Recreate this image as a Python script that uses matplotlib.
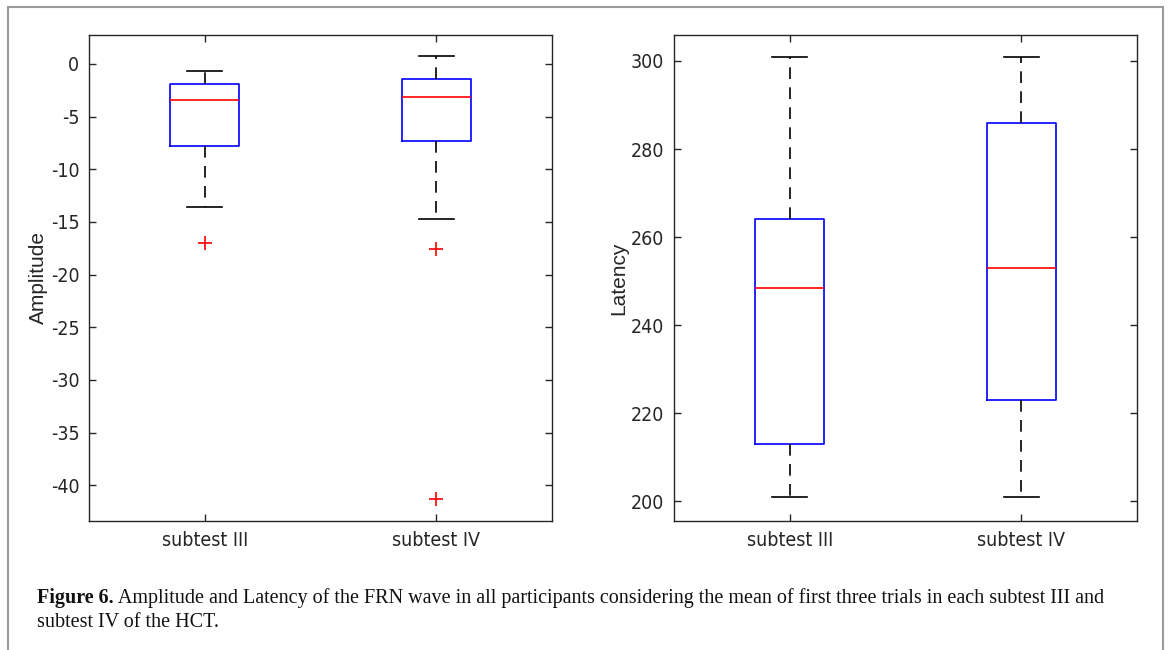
import matplotlib
matplotlib.use("Agg")
import matplotlib.pyplot as plt
from matplotlib.patches import Rectangle

plt.rcParams["axes.unicode_minus"] = False

# Box-plot summaries for the two subtests
groups = ["subtest III", "subtest IV"]

amp_med = [-3.4, -3.1]
amp_q1 = [-7.8, -7.3]
amp_q3 = [-1.9, -1.43]
amp_low = [-13.6, -14.7]
amp_high = [-0.65, 0.76]
amp_fliers = [[-17.0], [-17.6, -41.3]]

lat_med = [248.4, 253.0]
lat_q1 = [213.0, 223.0]
lat_q3 = [264.0, 286.0]
lat_low = [201.0, 201.0]
lat_high = [301.0, 301.0]
lat_fliers = [[], []]

caption_bold = "Figure 6."
caption_line1 = (" Amplitude and Latency of the FRN wave in all participants "
                 "considering the mean of first three trials in each subtest III and")
caption_line2 = "subtest IV of the HCT."

W, H = 1171, 650
ink = "#262626"


def make_stats(med, q1, q3, low, high, fliers):
    return [
        dict(med=med[i], q1=q1[i], q3=q3[i], whislo=low[i], whishi=high[i],
             fliers=fliers[i], label=groups[i])
        for i in range(len(groups))
    ]


def draw_box(ax, stats, ylim, yticks, ylabel, label_x):
    ax.bxp(
        stats, positions=[1, 2], widths=0.3,
        boxprops=dict(color="#0000ff", linewidth=1.2),
        medianprops=dict(color="#ff0000", linewidth=1.2),
        whiskerprops=dict(color="black", linewidth=1.2, linestyle=(0, (7, 5))),
        capprops=dict(color="black", linewidth=1.2),
        capwidths=0.15,
        flierprops=dict(marker="+", markeredgecolor="#ff0000", markersize=10,
                        markeredgewidth=1.2, linestyle="none"),
    )
    ax.set_xlim(0.5, 2.5)
    ax.set_ylim(*ylim)
    ax.set_yticks(yticks)
    ax.set_xticks([1, 2])
    ax.set_xticklabels(groups)
    ax.tick_params(direction="in", top=True, right=True, length=5,
                   width=1.0, color=ink, labelcolor=ink, pad=7)
    for lbl in ax.get_xticklabels() + ax.get_yticklabels():
        lbl.set_fontfamily(["DejaVu Sans"])
        lbl.set_fontstretch("condensed")
        lbl.set_fontsize(14)
    for sp in ax.spines.values():
        sp.set_color(ink)
        sp.set_linewidth(1.0)
    ax.set_ylabel(ylabel, fontsize=15, family=["Liberation Sans", "DejaVu Sans"],
                  color=ink)
    ax.yaxis.set_label_coords(label_x, 0.5)


fig = plt.figure(figsize=(W / 100, H / 100), dpi=100)

# outer panel frame, open past the bottom edge
frame = Rectangle((8 / W, -0.05), (1163 - 8) / W, (H - 7) / H + 0.05,
                  transform=fig.transFigure, fill=False, edgecolor="#9a9a9a",
                  linewidth=1.5, clip_on=False)
fig.add_artist(frame)

ax1 = fig.add_axes([89 / W, 1 - 521 / H, 463 / W, 486 / H])
ax2 = fig.add_axes([674 / W, 1 - 521 / H, 463 / W, 486 / H])

draw_box(ax1, make_stats(amp_med, amp_q1, amp_q3, amp_low, amp_high, amp_fliers),
         (-43.4, 2.75), [-40, -35, -30, -25, -20, -15, -10, -5, 0], "Amplitude",
         (48 - 89) / 463)
draw_box(ax2, make_stats(lat_med, lat_q1, lat_q3, lat_low, lat_high, lat_fliers),
         (195.5, 305.9), [200, 220, 240, 260, 280, 300], "Latency",
         (628 - 674) / 463)

# caption: bold lead-in followed by the regular text
cap_size = 14.5
renderer = fig.canvas.get_renderer()
t_bold = fig.text(37 / W, 1 - 603 / H, caption_bold, fontsize=cap_size,
                  family="Liberation Serif", weight="bold", va="baseline",
                  color="#111111")
bb = t_bold.get_window_extent(renderer)
fig.text(bb.x1 / W, 1 - 603 / H, caption_line1, fontsize=cap_size,
         family="Liberation Serif", va="baseline", color="#111111")
fig.text(37 / W, 1 - 627 / H, caption_line2, fontsize=cap_size,
         family="Liberation Serif", va="baseline", color="#111111")

fig.savefig("out.png", dpi=100)
